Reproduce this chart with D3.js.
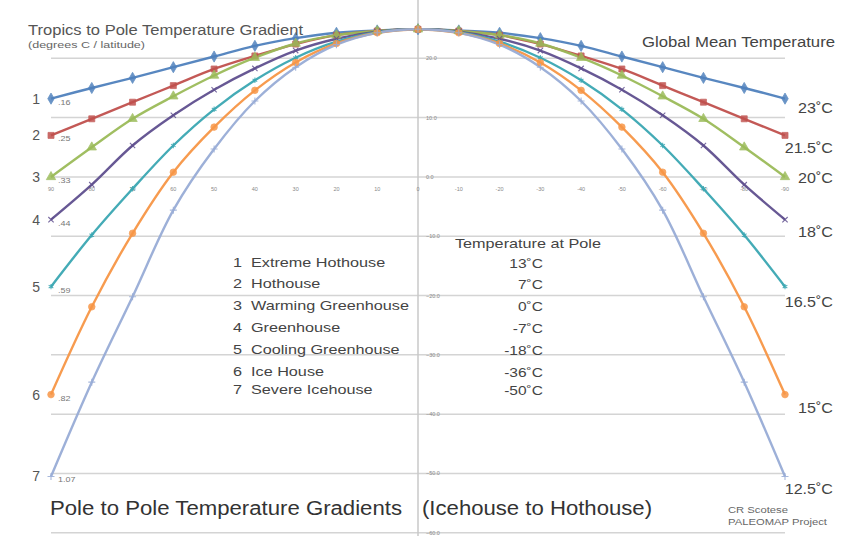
<!DOCTYPE html>
<html><head><meta charset="utf-8">
<script src="https://cdn.jsdelivr.net/npm/d3@7"></script>
<style>
html,body{margin:0;padding:0;background:#fff;}
svg{display:block;font-family:"Liberation Sans",Arial,sans-serif;}
</style></head>
<body><svg id="chart" width="841" height="536"></svg>
<script>
// ---- data ----
const latitudes = [90,80,70,60,50,40,30,20,10,0,-10,-20,-30,-40,-50,-60,-70,-80,-90];
const seriesNames = ["Extreme Hothouse","Hothouse","Warming Greenhouse","Greenhouse","Cooling Greenhouse","Ice House","Severe Icehouse"];
const s1 = [13.2,15.0,16.7,18.5,20.3,22.1,23.4,24.3,24.7,24.9,24.7,24.3,23.4,22.1,20.3,18.5,16.7,15.0,13.2];
const s2 = [7.0,9.8,12.6,15.4,18.2,20.4,22.4,23.9,24.6,24.9,24.6,23.9,22.4,20.4,18.2,15.4,12.6,9.8,7.0];
const s3 = [0.0,5.0,9.8,13.6,17.1,20.1,22.5,23.9,24.6,24.9,24.6,23.9,22.5,20.1,17.1,13.6,9.8,5.0,0.0];
const s4 = [-7.2,-1.3,5.3,10.4,14.7,18.3,21.3,23.3,24.5,24.9,24.5,23.3,21.3,18.3,14.7,10.4,5.3,-1.3,-7.2];
const s5 = [-18.5,-9.8,-2.0,5.3,11.4,16.3,20.1,22.8,24.4,24.9,24.4,22.8,20.1,16.3,11.4,5.3,-2.0,-9.8,-18.5];
const s6 = [-36.7,-21.9,-9.5,0.8,8.4,14.6,19.3,22.5,24.3,24.9,24.3,22.5,19.3,14.6,8.4,0.8,-9.5,-21.9,-36.7];
const s7 = [-50.5,-34.6,-20.2,-5.6,4.7,12.8,18.5,22.3,24.3,24.9,24.3,22.3,18.5,12.8,4.7,-5.6,-20.2,-34.6,-50.5];
const allSeries = [s1,s2,s3,s4,s5,s6,s7];
const gradients = [".16",".25",".33",".44",".59",".82","1.07"];
const poleTemps = ["13˚C","7˚C","0˚C","-7˚C","-18˚C","-36˚C","-50˚C"];
const globalMeans = ["23˚C","21.5˚C","20˚C","18˚C","16.5˚C","15˚C","12.5˚C"];
const yTicks = [20,10,0,-10,-20,-30,-40,-50,-60];
const xTicks = [90,80,70,60,50,40,30,20,10,0,-10,-20,-30,-40,-50,-60,-70,-80,-90];

const colors = ["#4f81bd","#c0504d","#9bbb59","#5f4f8e","#3aa6b2","#f79646","#98acd6"];

const svg = d3.select("#chart");
const x = d3.scaleLinear().domain([90,-90]).range([51,785]);
const y = d3.scaleLinear().domain([30,-60]).range([-1,532.8]);

// horizontally stretched text helper (reference type is wide)
const SX = 1.2;
function stretch(sel){
  sel.each(function(){
    const n = this; const w = n.getComputedTextLength();
    if (w>0){ n.setAttribute("textLength", (w*SX).toFixed(1)); n.setAttribute("lengthAdjust","spacingAndGlyphs"); }
  });
  return sel;
}

// gridlines
svg.append("g").selectAll("line").data(yTicks).join("line")
  .attr("x1", x(90)).attr("x2", x(-90))
  .attr("y1", d=>y(d)).attr("y2", d=>y(d))
  .attr("stroke","#d4d4d4").attr("stroke-width",1.5);

// vertical axis
svg.append("line").attr("x1",x(0)).attr("x2",x(0)).attr("y1",0).attr("y2",536)
  .attr("stroke","#c8c8c8").attr("stroke-width",1.5);

// y tick labels
svg.append("g").selectAll("text").data(yTicks).join("text")
  .attr("x", x(0)+8).attr("y", d=>y(d)+2)
  .attr("font-size",5.5).attr("fill","#888")
  .text(d=>d3.format(".1f")(d));

// x tick labels
svg.append("g").selectAll("text").data(xTicks).join("text")
  .attr("x", d=>x(d)).attr("y", y(0)+14)
  .attr("text-anchor","middle").attr("font-size",5.5).attr("fill","#888")
  .text(d=>d);

// lines
const line = d3.line().x((d,i)=>x(latitudes[i])).y(d=>y(d)).curve(d3.curveCatmullRom.alpha(0.5));
const symbols = [d3.symbolDiamond,d3.symbolSquare,d3.symbolTriangle,d3.symbolTimes,d3.symbolAsterisk,d3.symbolCircle,d3.symbolPlus];
const filled = [true,true,true,false,false,true,false];
const symSize = [36,36,38,20,20,34,18];

allSeries.forEach((s,k)=>{
  svg.append("path").datum(s).attr("d",line)
    .attr("fill","none").attr("stroke",colors[k]).attr("stroke-width",2.4).attr("opacity",0.95);
});
allSeries.forEach((s,k)=>{
  const sym = d3.symbol().type(symbols[k]).size(symSize[k]);
  svg.append("g").selectAll("path").data(s).join("path")
    .attr("transform",(d,i)=>`translate(${x(latitudes[i])},${y(d)})`)
    .attr("d",sym)
    .attr("fill", filled[k]?colors[k]:"none")
    .attr("stroke", colors[k]).attr("stroke-width", filled[k]?0.8:1.1)
    .attr("opacity",0.85);
});

// titles
svg.append("text").attr("x",28).attr("y",35).attr("font-size",14).attr("fill","#555")
  .text("Tropics to Pole Temperature Gradient")
  .attr("textLength",275).attr("lengthAdjust","spacingAndGlyphs");
svg.append("text").attr("x",28).attr("y",48).attr("font-size",9).attr("fill","#666")
  .text("(degrees C / latitude)")
  .attr("textLength",117).attr("lengthAdjust","spacingAndGlyphs");
svg.append("text").attr("x",642).attr("y",47).attr("font-size",14).attr("fill","#444")
  .text("Global Mean Temperature")
  .attr("textLength",193).attr("lengthAdjust","spacingAndGlyphs");

// left labels
svg.append("g").selectAll("text").data(allSeries).join("text")
  .attr("x",40).attr("y",(s)=>y(s[0])+5).attr("text-anchor","end")
  .attr("font-size",14).attr("fill","#555").text((s,i)=>i+1);
stretch(svg.append("g").selectAll("text").data(allSeries).join("text")
  .attr("x",58).attr("y",(s)=>y(s[0])+6)
  .attr("font-size",7.5).attr("fill","#777").text((s,i)=>gradients[i]));

// right labels (right-aligned at x=833)
const rightOffsets = [9,13,1,12,15,13,13];
const rl = svg.append("g").selectAll("text").data(allSeries).join("text")
  .attr("y",(s,i)=>y(s[s.length-1])+rightOffsets[i]+5)
  .attr("font-size",14).attr("fill","#444").text((s,i)=>globalMeans[i]);
rl.each(function(){ const w=this.getComputedTextLength()*1.15; this.setAttribute("x",(833-w).toFixed(1)); this.setAttribute("textLength",w.toFixed(1)); this.setAttribute("lengthAdjust","spacingAndGlyphs"); });

// legend list
const legY = [262,283,305,327,349,371,389];
stretch(svg.append("g").selectAll("text").data(seriesNames).join("text")
  .attr("x",233).attr("y",(d,i)=>legY[i]+5)
  .attr("font-size",13.5).attr("fill","#444")
  .style("white-space","pre")
  .text((d,i)=>`${i+1}  ${d}`));
stretch(svg.append("text").attr("x",455).attr("y",248).attr("font-size",13.5).attr("fill","#444")
  .text("Temperature at Pole"));
const pt = svg.append("g").selectAll("text").data(poleTemps).join("text")
  .attr("y",(d,i)=>legY[i]+6)
  .attr("font-size",13.5).attr("fill","#444").text(d=>d);
pt.each(function(){ const w=this.getComputedTextLength()*1.15; this.setAttribute("x",(543-w).toFixed(1)); this.setAttribute("textLength",w.toFixed(1)); this.setAttribute("lengthAdjust","spacingAndGlyphs"); });

// bottom title
svg.append("text").attr("x",50).attr("y",515).attr("font-size",19.5).attr("fill","#333")
  .text("Pole to Pole Temperature Gradients")
  .attr("textLength",352).attr("lengthAdjust","spacingAndGlyphs");
svg.append("text").attr("x",422).attr("y",515).attr("font-size",19.5).attr("fill","#333")
  .text("(Icehouse to Hothouse)")
  .attr("textLength",230).attr("lengthAdjust","spacingAndGlyphs");
svg.append("text").attr("x",728).attr("y",513).attr("font-size",8.5).attr("fill","#666").text("CR Scotese")
  .attr("textLength",60).attr("lengthAdjust","spacingAndGlyphs");
svg.append("text").attr("x",728).attr("y",525).attr("font-size",8.5).attr("fill","#666").text("PALEOMAP Project")
  .attr("textLength",99).attr("lengthAdjust","spacingAndGlyphs");
</script></body></html>
